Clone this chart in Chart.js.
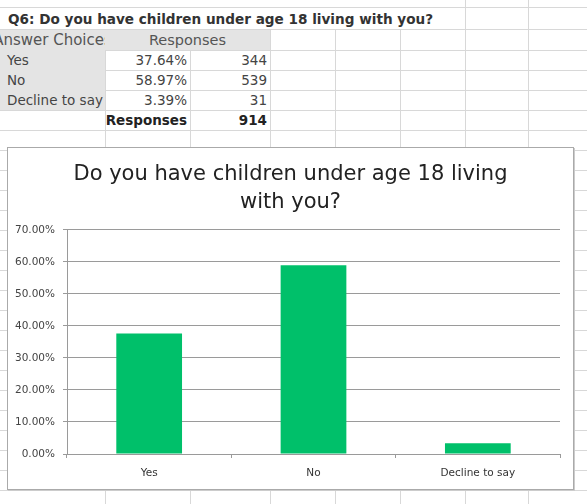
<!DOCTYPE html>
<html>
<head>
<meta charset="utf-8">
<script src="https://cdn.jsdelivr.net/npm/chart.js@4.4.1/dist/chart.umd.min.js"></script>
<style>
  html, body { margin: 0; padding: 0; background: #fff; }
  body { width: 587px; height: 504px; overflow: hidden; position: relative; font-family: "DejaVu Sans", sans-serif; }
  .hl { position: absolute; height: 1px; background: #d8d8d8; }
  .vl { position: absolute; width: 1px; background: #d8d8d8; }
  .fill { position: absolute; background: #e4e4e4; }
  .cell { position: absolute; height: 20px; line-height: 20px; font-size: 13.5px; color: #444; white-space: nowrap; overflow: hidden; }
  .left { text-align: left; padding-left: 7px; box-sizing: border-box; }
  .right { text-align: right; padding-right: 3px; box-sizing: border-box; }
  .center { display: flex; justify-content: center; font-size: 14.5px; }
  .wide { font-size: 15px; }
  .bold { font-weight: bold; color: #222; }
  #qtitle { position: absolute; left: 8px; top: 9px; height: 21px; line-height: 21px; font-size: 13.6px; font-weight: bold; color: #333; white-space: nowrap; }
  #chartBox { position: absolute; left: 7px; top: 147px; width: 565px; height: 341px; border: 1px solid #aaa; box-shadow: 1px 1px 0 #ccc; background: #fff; }
</style>
</head>
<body>
<div id="sheet"></div>
<div id="qtitle"></div>
<div id="chartBox"><canvas id="c"></canvas></div>
<script>
// ---- data ----
const questionTitle = 'Q6: Do you have children under age 18 living with you?';
const chartTitle = ['Do you have children under age 18 living', 'with you?'];
const categories = ['Yes', 'No', 'Decline to say'];
const percents = [37.64, 58.97, 3.39];
const counts = [344, 539, 31];
const totalResponses = 914;
const headerLabels = ['Answer Choices', 'Responses'];
const totalLabel = 'Responses';
const yMin = 0, yMax = 70, yStep = 10;

// ---- spreadsheet background ----
const sheet = document.getElementById('sheet');
function add(cls, style, text) {
  const d = document.createElement('div');
  d.className = cls;
  Object.assign(d.style, style);
  if (text !== undefined) {
    if (cls.indexOf('center') >= 0) { const s = document.createElement('span'); s.textContent = text; d.appendChild(s); }
    else d.textContent = text;
  }
  sheet.appendChild(d);
  return d;
}
const rowLines = [7, 29, 50];
for (let y = 70; y <= 510; y += 20) rowLines.push(y);
rowLines.forEach(y => add('hl', { left: '0px', width: '587px', top: y + 'px' }));
[105, 190, 270, 335, 400].forEach(x => add('vl', { left: x + 'px', top: '29px', height: '480px' }));
[465, 528].forEach(x => add('vl', { left: x + 'px', top: '0px', height: '504px' }));

// gray fills
add('fill', { left: '0px', top: '30px', width: '270px', height: '20px' });
add('fill', { left: '0px', top: '50px', width: '105px', height: '60px' });

// header
add('cell center wide', { left: '0px', top: '30px', width: '105px', color: '#555' }, headerLabels[0]);
add('cell center', { left: '105px', top: '30px', width: '165px', color: '#555' }, headerLabels[1]);

// rows
categories.forEach((c, i) => {
  const top = 50 + i * 20;
  add('cell left', { left: '0px', top: top + 'px', width: '105px' }, c);
  add('cell right', { left: '105px', top: top + 'px', width: '85px' }, percents[i].toFixed(2) + '%');
  add('cell right', { left: '190px', top: top + 'px', width: '80px' }, String(counts[i]));
});
add('cell right bold', { left: '105px', top: '110px', width: '85px' }, totalLabel);
add('cell right bold', { left: '190px', top: '110px', width: '80px' }, String(totalResponses));

document.getElementById('qtitle').textContent = questionTitle;

// ---- chart ----
Chart.defaults.font.family = '"DejaVu Sans", sans-serif';
const grey = '#9a9a9a';
new Chart(document.getElementById('c'), {
  type: 'bar',
  data: {
    labels: categories,
    datasets: [{
      data: percents,
      backgroundColor: '#00c06a',
      borderWidth: 0,
      barPercentage: 0.4,
      categoryPercentage: 1.0
    }]
  },
  options: {
    responsive: true,
    maintainAspectRatio: false,
    animation: false,
    devicePixelRatio: 1,
    layout: { padding: { left: 0, right: 0, top: 0, bottom: 0.5 } },
    plugins: {
      legend: { display: false },
      tooltip: { enabled: false },
      title: {
        display: true,
        text: chartTitle,
        color: '#222',
        font: { size: 21, weight: 'normal', lineHeight: 1.333 },
        padding: { top: 13, bottom: 13 }
      }
    },
    scales: {
      x: {
        grid: { display: true, drawOnChartArea: false, tickLength: 4, color: grey, offset: true },
        border: { display: true, color: grey },
        ticks: { color: '#333', font: { size: 10.5, lineHeight: 1 }, padding: 10, maxRotation: 0 }
      },
      y: {
        min: yMin, max: yMax,
        ticks: { stepSize: yStep, color: '#444', font: { size: 10.5 }, padding: 8,
                 callback: v => Number(v).toFixed(2) + '%' },
        grid: { color: grey, tickLength: 4 },
        border: { display: true, color: grey },
        afterFit(s) { s.width = 59; }
      },
      yRightSpace: {
        position: 'right',
        display: true,
        grid: { display: false },
        border: { display: false },
        ticks: { display: false },
        afterFit(s) { s.width = 13; }
      }
    }
  }
});
</script>
</body>
</html>
